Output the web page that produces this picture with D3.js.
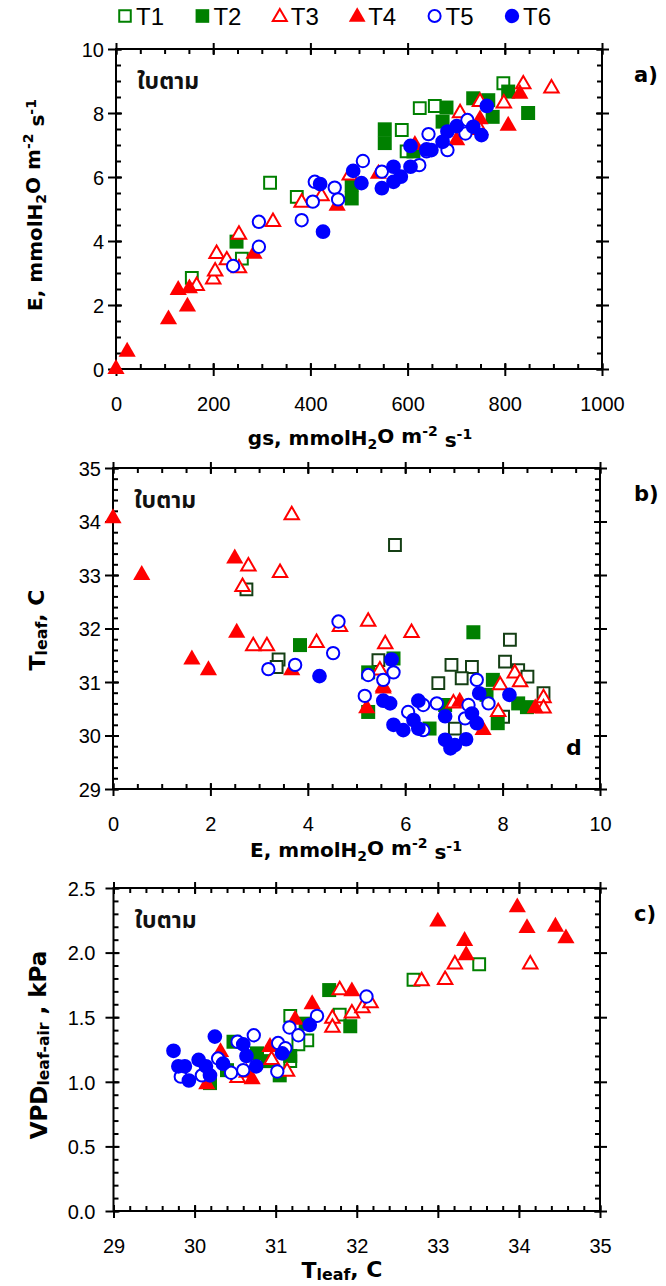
<!DOCTYPE html>
<html><head><meta charset="utf-8">
<script src="https://cdn.jsdelivr.net/npm/d3@7"></script>
<style>
html,body{margin:0;padding:0;background:#fff;}
svg{display:block;}
</style></head>
<body>
<svg id="chart" width="666" height="1286"></svg>
<script>
// ---------- DATA ----------
const seriesNames = ["T1","T2","T3","T4","T5","T6"];

// Panel a) : gs (mmolH2O m-2 s-1) vs E (mmolH2O m-2 s-1)
const a_T1 = [[156,2.85],[259,3.45],[317,5.82],[372,5.38],[588,7.47],[598,6.8],[625,8.15],[656,8.22],[797,8.93]];
const a_T2 = [[248,3.98],[485,5.75],[485,5.33],[553,7.49],[553,7.06],[612,6.8],[672,7.73],[680,8.17],[735,8.46],[766,8.4],[775,7.88],[807,8.67],[848,8.0]];
const a_T3 = [[166,2.6],[200,2.8],[204,3.05],[207,3.6],[228,3.4],[253,4.2],[253,3.15],[323,4.6],[382,5.2],[423,5.4],[481,6.05],[708,8.0],[749,8.35],[749,7.47],[798,8.3],[838,8.9],[896,8.77]];
const a_T4 = [[0,0],[23,0.54],[108,1.55],[128,2.47],[147,1.95],[151,2.52],[284,3.6],[455,5.1],[540,6.1],[615,7.0],[701,7.15],[749,7.8],[807,7.6],[831,8.6]];
const a_T5 = [[241,3.22],[294,3.82],[294,4.6],[382,4.65],[405,5.23],[409,5.85],[450,5.67],[457,5.3],[508,6.5],[547,6.17],[624,6.37],[639,6.8],[643,7.34],[682,6.84],[719,7.36],[723,7.78]];
const a_T6 = [[420,5.78],[426,4.29],[488,6.19],[505,5.81],[547,5.65],[571,6.32],[571,5.85],[586,6.01],[606,6.32],[606,6.97],[639,6.86],[649,6.84],[672,7.1],[682,7.42],[701,7.59],[735,7.57],[752,7.31],[763,8.22]];

// Panel b) : E vs Tleaf (C)
const b_T1 = [[2.74,32.73],[3.4,31.42],[3.36,31.28],[5.79,33.56],[5.45,31.41],[6.68,30.98],[6.95,31.32],[7.37,31.28],[7.16,31.07],[8.15,31.79],[8.05,31.38],[8.32,31.22],[8.51,31.1],[8.84,30.79],[8.01,30.35],[7.02,30.13]];
const b_T2 = [[3.84,31.69],[5.24,31.18],[5.24,30.44],[5.76,31.44],[7.4,31.93],[7.8,31.04],[6.82,30.57],[7.9,30.23],[8.32,30.6],[8.5,30.53],[6.5,30.13],[7.67,30.76]];
const b_T3 = [[3.67,34.12],[2.78,33.16],[2.66,32.78],[3.43,33.04],[2.88,31.67],[3.16,31.67],[4.18,31.73],[4.66,32.03],[5.24,32.13],[5.59,31.71],[6.13,31.92],[5.48,31.22],[6.99,30.6],[7.95,30.94],[8.25,31.16],[8.36,31.0],[7.91,30.44],[8.84,30.7],[8.84,30.51]];
const b_T4 = [[0,34.06],[0.59,33.0],[2.5,33.31],[2.54,31.92],[1.62,31.42],[1.96,31.22],[3.67,31.22],[5.55,30.91],[5.21,30.51],[5.55,30.88],[7.12,30.63],[7.6,30.1],[8.67,30.51]];
const b_T5 = [[4.63,32.13],[4.52,31.54],[3.19,31.24],[3.74,31.32],[5.17,30.74],[5.24,31.13],[5.55,31.04],[5.76,31.18],[6.06,30.44],[6.37,30.57],[6.65,30.6],[7.47,31.04],[7.3,30.57],[7.23,30.32],[7.71,30.6],[6.37,30.1]];
const b_T6 = [[4.24,31.11],[5.72,31.42],[5.55,30.65],[5.69,30.6],[5.76,30.2],[5.96,30.1],[6.27,30.65],[6.17,30.29],[6.27,30.13],[6.82,30.36],[6.82,29.92],[6.93,29.76],[7.02,29.82],[7.25,29.93],[7.37,30.41],[7.47,30.23],[7.52,30.79],[8.14,30.76]];

// Panel c) : Tleaf vs VPDleaf-air (kPa)
const c_T1 = [[32.7,1.79],[33.51,1.91],[31.18,1.51],[31.79,1.52],[31.39,1.32],[31.28,1.29],[31.18,1.16]];
const c_T2 = [[31.66,1.71],[31.92,1.43],[31.37,1.45],[31.18,1.2],[30.77,1.22],[30.48,1.31],[30.4,1.09],[30.19,0.99],[31.05,1.05],[30.9,1.16]];
const c_T3 = [[32.8,1.78],[33.09,1.79],[33.21,1.91],[34.14,1.91],[31.79,1.71],[31.94,1.53],[32.07,1.57],[32.17,1.61],[31.7,1.49],[31.7,1.42],[30.95,1.17],[31.14,1.08],[30.53,1.03]];
const c_T4 = [[33.0,2.24],[33.33,2.09],[33.35,1.98],[33.98,2.35],[34.1,2.19],[34.45,2.2],[34.58,2.11],[31.94,1.7],[31.45,1.6],[31.24,1.48],[30.93,1.27],[30.32,1.23],[30.15,0.98],[30.71,1.02],[30.64,1.07]];
const c_T5 = [[32.12,1.66],[31.51,1.51],[31.17,1.42],[31.28,1.36],[30.73,1.36],[30.53,1.31],[31.03,1.3],[31.12,1.26],[31.02,1.08],[30.6,1.09],[30.45,1.07],[30.29,1.18],[30.09,1.05],[29.83,1.04]];
const c_T6 = [[29.74,1.24],[29.8,1.12],[29.88,1.12],[29.93,1.01],[30.05,1.17],[30.14,1.12],[30.19,1.05],[30.25,1.35],[30.35,1.14],[30.6,1.29],[30.64,1.2],[30.76,1.12],[31.08,1.22],[31.42,1.44]];

// tick labels
const a_xTicks = [0,200,400,600,800,1000];
const a_yTicks = [0,2,4,6,8,10];
const b_xTicks = [0,2,4,6,8,10];
const b_yTicks = [29,30,31,32,33,34,35];
const c_xTicks = [29,30,31,32,33,34,35];
const c_yTicks = ["0.0","0.5","1.0","1.5","2.0","2.5"];

// ---------- STYLE ----------
const GREEN = "#008000", DKGREEN = "#153f15", RED = "#ff0000", BLUE = "#0000ff";
const TICKFONT = "'Liberation Sans', Arial, sans-serif";
const BOLDFONT = "'DejaVu Sans', Verdana, sans-serif";
const THAIFONT = "'Noto Sans Thai', 'Noto Sans Thai UI', Tahoma, 'DejaVu Sans', sans-serif";

function markerStyle(name, panel){
  const green = panel === "b" ? DKGREEN : GREEN;
  switch(name){
    case "T1": return {type:d3.symbolSquare, size:140, fill:"#fff", stroke:green};
    case "T2": return {type:d3.symbolSquare, size:196, fill:GREEN, stroke:"none"};
    case "T3": return {type:d3.symbolTriangle, size:90, fill:"#fff", stroke:RED};
    case "T4": return {type:d3.symbolTriangle, size:128, fill:RED, stroke:"none"};
    case "T5": return {type:d3.symbolCircle, size:120, fill:"#fff", stroke:BLUE};
    case "T6": return {type:d3.symbolCircle, size:170, fill:BLUE, stroke:"none"};
  }
}

const svg = d3.select("#chart");

function drawPanel(p){
  const x = d3.scaleLinear().domain(p.xDom).range([p.x0, p.x1]);
  const y = d3.scaleLinear().domain(p.yDom).range([p.y1, p.y0]);
  const g = svg.append("g");

  const minorX = d3.range(p.xDom[0], p.xDom[1] + 1e-9, p.xMinor);
  const minorY = d3.range(p.yDom[0], p.yDom[1] + 1e-9, p.yMinor);
  const majorX = p.xTicks.map(Number), majorY = p.yTicks.map(Number);

  // minor ticks (inward)
  g.append("g").attr("transform",`translate(0,${p.y1})`)
    .call(d3.axisBottom(x).tickValues(minorX).tickSize(-5).tickFormat(""));
  g.append("g").attr("transform",`translate(0,${p.y0})`)
    .call(d3.axisTop(x).tickValues(minorX).tickSize(-5).tickFormat(""));
  g.append("g").attr("transform",`translate(${p.x0},0)`)
    .call(d3.axisLeft(y).tickValues(minorY).tickSize(-5).tickFormat(""));
  g.append("g").attr("transform",`translate(${p.x1},0)`)
    .call(d3.axisRight(y).tickValues(minorY).tickSize(-5).tickFormat(""));

  // major ticks (crossing) with labels on bottom / left
  const xb = g.append("g").attr("transform",`translate(0,${p.y1})`)
    .call(d3.axisBottom(x).tickValues(majorX).tickSize(7).tickPadding(0)
      .tickFormat((d,i)=>String(p.xTicks[i])));
  xb.selectAll(".tick line").attr("y1",-6).attr("y2",7);
  xb.selectAll(".tick text").attr("y", p.xLabelDy).attr("dy",0);
  const xt = g.append("g").attr("transform",`translate(0,${p.y0})`)
    .call(d3.axisTop(x).tickValues(majorX).tickSize(6).tickFormat(""));
  xt.selectAll(".tick line").attr("y1",-6).attr("y2",6);

  const yl = g.append("g").attr("transform",`translate(${p.x0},0)`)
    .call(d3.axisLeft(y).tickValues(majorY).tickSize(8).tickPadding(0)
      .tickFormat((d,i)=>String(p.yTicks[i])));
  yl.selectAll(".tick line").attr("x1",6).attr("x2",-8);
  yl.selectAll(".tick text").attr("x", -p.yLabelGap).attr("dy","0.36em");
  const yr = g.append("g").attr("transform",`translate(${p.x1},0)`)
    .call(d3.axisRight(y).tickValues(majorY).tickSize(7).tickFormat(""));
  yr.selectAll(".tick line").attr("x1",-6).attr("x2",7);

  g.selectAll(".domain").remove();
  g.selectAll(".tick line").attr("stroke","#000").attr("stroke-width",2);
  g.selectAll(".tick text").attr("font-family",TICKFONT).attr("font-size",20).attr("fill","#000");

  // frame
  g.append("rect").attr("x",p.x0).attr("y",p.y0)
    .attr("width",p.x1-p.x0).attr("height",p.y1-p.y0)
    .attr("fill","none").attr("stroke","#000").attr("stroke-width",2);

  // markers
  const pts = g.append("g");
  p.series.forEach((data,i)=>{
    const name = seriesNames[i];
    const st = markerStyle(name, p.id);
    const sym = d3.symbol().type(st.type).size(st.size);
    pts.selectAll(null).data(data).enter().append("path")
      .attr("d", sym)
      .attr("transform", d=>`translate(${x(d[0])},${y(d[1])})`)
      .attr("fill", st.fill)
      .attr("stroke", st.stroke)
      .attr("stroke-width", st.stroke==="none"?0:2);
  });

  // inner label Thai
  g.append("text").attr("x",p.x0+21).attr("y",p.y0+40)
    .attr("font-family",THAIFONT).attr("font-weight","bold")
    .attr("font-size",23).attr("fill","#111").text("ใบตาม");

  // panel letter
  g.append("text").attr("x",634).attr("y",p.y0+33)
    .attr("font-family",BOLDFONT).attr("font-weight","bold")
    .attr("font-size",21).attr("fill","#000").text(p.letter);

  return {g,x,y};
}

function unitTitle(sel, prefix){
  sel.append("tspan").text(prefix + "mmolH");
  sel.append("tspan").attr("font-size","0.7em").attr("dy","0.3em").text("2");
  sel.append("tspan").attr("dy","-0.3em").text("O m");
  sel.append("tspan").attr("font-size","0.7em").attr("dy","-0.55em").text("-2");
  sel.append("tspan").attr("dy","0.55em").text(" s");
  sel.append("tspan").attr("font-size","0.7em").attr("dy","-0.55em").text("-1");
}

// ---------- PANELS ----------
const A = drawPanel({id:"a", letter:"a)", x0:116, x1:602, y0:49, y1:369,
  xDom:[0,1000], yDom:[0,10], xMinor:50, yMinor:0.5,
  xTicks:a_xTicks, yTicks:a_yTicks, xLabelDy:42, yLabelGap:12,
  series:[a_T1,a_T2,a_T3,a_T4,a_T5,a_T6]});
const B = drawPanel({id:"b", letter:"b)", x0:113, x1:600, y0:468, y1:789,
  xDom:[0,10], yDom:[29,35], xMinor:0.5, yMinor:0.2,
  xTicks:b_xTicks, yTicks:b_yTicks, xLabelDy:42, yLabelGap:12,
  series:[b_T1,b_T2,b_T3,b_T4,b_T5,b_T6]});
const C = drawPanel({id:"c", letter:"c)", x0:113.5, x1:600, y0:888, y1:1211,
  xDom:[29,35], yDom:[0,2.5], xMinor:0.2, yMinor:0.1,
  xTicks:c_xTicks, yTicks:c_yTicks, xLabelDy:42, yLabelGap:18,
  series:[c_T1,c_T2,c_T3,c_T4,c_T5,c_T6]});

// "d" label in panel b
svg.append("text").attr("x",566).attr("y",755)
  .attr("font-family",BOLDFONT).attr("font-weight","bold").attr("font-size",22)
  .text("d");

// ---------- AXIS TITLES ----------
const titleFont = (s, fs)=>s.attr("font-family",BOLDFONT).attr("font-weight","bold")
  .attr("font-size",fs||20).attr("fill","#000").attr("text-anchor","middle");

unitTitle(svg.append("text").attr("x",360).attr("y",445).call(titleFont), "gs, ");
unitTitle(svg.append("text").attr("transform","translate(42,205) rotate(-90)").call(titleFont), "E, ");

unitTitle(svg.append("text").attr("x",356).attr("y",857).call(titleFont), "E, ");
{
  const t = svg.append("text").attr("transform","translate(45,630) rotate(-90)").call(titleFont, 22);
  t.append("tspan").text("T");
  t.append("tspan").attr("font-size","0.72em").attr("dy","0.1em").text("leaf");
  t.append("tspan").attr("dy","-0.1em").text(", C");
}
{
  const t = svg.append("text").attr("transform","translate(47,1045) rotate(-90)").call(titleFont, 23);
  t.append("tspan").text("VPD");
  t.append("tspan").attr("font-size","0.68em").attr("dy","0.15em").text("leaf-air");
  t.append("tspan").attr("dy","-0.15em").text(" , kPa");
}
{
  const t = svg.append("text").attr("x",342).attr("y",1278).call(titleFont, 22);
  t.append("tspan").text("T");
  t.append("tspan").attr("font-size","0.72em").attr("dy","0.1em").text("leaf");
  t.append("tspan").attr("dy","-0.1em").text(", C");
}

// ---------- LEGEND ----------
const legendX = d3.scalePoint().domain(seriesNames).range([125, 512]);
const lg = svg.append("g");
seriesNames.forEach(name=>{
  const st = markerStyle(name, "a");
  const cx = legendX(name), cy = 16;
  lg.append("path").attr("d", d3.symbol().type(st.type).size(st.size*0.95)())
    .attr("transform",`translate(${cx},${cy + (st.type===d3.symbolTriangle?1:0)})`)
    .attr("fill",st.fill).attr("stroke",st.stroke)
    .attr("stroke-width",st.stroke==="none"?0:2);
  lg.append("text").attr("x",cx+11).attr("y",cy+9)
    .attr("font-family","'Liberation Sans Narrow', 'Liberation Sans', Arial, sans-serif")
    .attr("font-size",24).attr("fill","#000").text(name);
});
</script>
</body></html>
